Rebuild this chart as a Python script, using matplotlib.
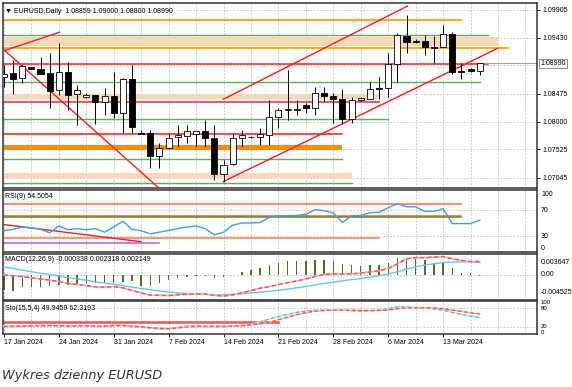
import matplotlib
matplotlib.use("Agg")
import matplotlib.pyplot as plt

plt.rcParams["font.family"] = ["Liberation Sans", "DejaVu Sans"]

W, H = 572, 387

# --- candles (one per trading day, Sunday bars included) ---
opens = [1.08765, 1.08822, 1.08736, 1.08924, 1.08901, 1.08822, 1.08538, 1.08850, 1.08464, 1.08413,
         1.08453, 1.08339, 1.08436, 1.08141, 1.08725, 1.07811, 1.07811, 1.07420, 1.07545, 1.07732,
         1.07755, 1.07783, 1.07845, 1.07715, 1.07102, 1.07272, 1.07715, 1.07743, 1.07743, 1.07772,
         1.08084, 1.08197, 1.08197, 1.08282, 1.08226, 1.08492, 1.08436, 1.08379, 1.08044, 1.08368,
         1.08390, 1.08566, 1.08566, 1.08975, 1.09457, 1.09372, 1.09372, 1.09270, 1.09264, 1.09486,
         1.08861, 1.08895, 1.08859]
highs = [1.08963, 1.09049, 1.08963, 1.08935, 1.09094, 1.09162, 1.09332, 1.09020, 1.08623, 1.08481,
         1.08453, 1.08566, 1.08850, 1.08736, 1.08963, 1.07857, 1.07857, 1.07630, 1.07811, 1.07942,
         1.07942, 1.07845, 1.08027, 1.07942, 1.07346, 1.07800, 1.07857, 1.07755, 1.07885, 1.08368,
         1.08226, 1.08878, 1.08368, 1.08311, 1.08595, 1.08583, 1.08481, 1.08549, 1.08424, 1.08424,
         1.08680, 1.08765, 1.09162, 1.09503, 1.09815, 1.09400, 1.09474, 1.09457, 1.09644, 1.09531,
         1.08992, 1.08907, 1.09000]
lows = [1.08583, 1.08464, 1.08651, 1.08895, 1.08810, 1.08226, 1.08453, 1.08197, 1.07942, 1.08396,
        1.07959, 1.08112, 1.08055, 1.07800, 1.07800, 1.07789, 1.07204, 1.07204, 1.07545, 1.07573,
        1.07630, 1.07573, 1.07573, 1.07006, 1.06977, 1.07261, 1.07573, 1.07726, 1.07601, 1.07601,
        1.07885, 1.08027, 1.08112, 1.08141, 1.08112, 1.08339, 1.07970, 1.07959, 1.07982, 1.08356,
        1.08379, 1.08379, 1.08424, 1.08680, 1.09162, 1.09332, 1.09134, 1.09003, 1.09264, 1.08810,
        1.08719, 1.08850, 1.08800]
closes = [1.08810, 1.08725, 1.08952, 1.08901, 1.08810, 1.08526, 1.08850, 1.08453, 1.08538, 1.08453,
          1.08339, 1.08436, 1.08141, 1.08725, 1.07914, 1.07789, 1.07420, 1.07545, 1.07715, 1.07772,
          1.07845, 1.07845, 1.07715, 1.07102, 1.07261, 1.07726, 1.07772, 1.07732, 1.07783, 1.08084,
          1.08197, 1.08214, 1.08214, 1.08226, 1.08492, 1.08441, 1.08379, 1.08044, 1.08368, 1.08396,
          1.08549, 1.08549, 1.08975, 1.09474, 1.09361, 1.09361, 1.09264, 1.09259, 1.09486, 1.08850,
          1.08850, 1.08861, 1.08990]

date_pos = [0, 6, 12, 18, 24, 30, 36, 42, 48]
date_labels = ["17 Jan 2024", "24 Jan 2024", "31 Jan 2024", "7 Feb 2024", "14 Feb 2024",
               "21 Feb 2024", "28 Feb 2024", "6 Mar 2024", "13 Mar 2024"]

price_ticks = [1.09905, 1.09430, 1.08475, 1.08000, 1.07525, 1.07045]
price_grid = [1.09905, 1.09430, 1.08955, 1.08475, 1.08000, 1.07525, 1.07045]
last_price = 1.08990

# horizontal levels drawn on the price chart: (price, last bar reached)
orange_levels = [(1.09730, 50.0), (1.09247, 55.1)]
green_levels = [(1.09474, 52.9), (1.08680, 52.0), (1.08044, 42.0), (1.07357, 37.0), (1.06949, 38.0)]
red_levels = [(1.08980, 52.9), (1.07783, 37.0)]
pink_levels = [(1.08339, 41.0)]
peach_zones = [(1.09287, 1.09434, 54.0), (1.08379, 1.08470, 41.0), (1.07034, 1.07130, 38.0)]
orange_zones = [(1.07516, 1.07601, 36.9)]
trend_lines = [((0.03, 1.09207), (6.05, 1.09520)),
               ((0.03, 1.09219), (16.97, 1.06864)),
               ((23.97, 1.08379), (44.12, 1.09968)),
               ((23.97, 1.06977), (53.96, 1.09247))]

# --- RSI(9) ---
rsi = [38.6, 40.2, 43.8, 42.8, 40.2, 35.0, 45.4, 39.7, 41.3, 39.7,
       41.3, 35.9, 43.8, 52.8, 40.2, 38.1, 33.4, 35.9, 38.6, 41.3,
       43.8, 45.4, 41.3, 31.8, 35.9, 46.5, 50.1, 50.1, 50.7, 58.6,
       61.1, 61.1, 61.7, 63.3, 70.6, 69.0, 65.4, 50.7, 61.1, 61.7,
       65.8, 66.4, 73.7, 79.5, 75.0, 75.0, 68.0, 68.0, 72.1, 49.1,
       49.1, 49.1, 54.5]
rsi_levels = [(79.1, 50.0, "#ff6a3d"), (60.2, 50.0, "#ff5a2a"), (58.6, 50.0, "#5e8f1f"),
              (26.5, 41.0, "#ff7a45"), (18.6, 17.0, "#b45fd6")]
rsi_trend = ((0.03, 47.6), (14.97, 21.3))

# --- MACD(12,26,9) ---
macd_hist = [-0.00270, -0.00298, -0.00214, -0.00214, -0.00225, -0.00203, -0.00191, -0.00186, -0.00174, -0.00158,
             -0.00158, -0.00158, -0.00146, -0.00129, -0.00113, -0.00203, -0.00203, -0.00146, -0.00101, -0.00056,
             -0.00045, -0.00023, -0.00020, -0.00070, -0.00040, -0.00010, 0.00040, 0.00080, 0.00110, 0.00170,
             0.00210, 0.00240, 0.00240, 0.00240, 0.00250, 0.00250, 0.00240, 0.00180, 0.00170, 0.00150,
             0.00170, 0.00170, 0.00200, 0.00285, 0.00300, 0.00280, 0.00250, 0.00210, 0.00210, 0.00110,
             0.00030, 0.00020, -0.000338]
macd_red = [-0.00006, -0.00023, -0.00034, -0.00056, -0.00079, -0.00101, -0.00124, -0.00158, -0.00180, -0.00197,
            -0.00219, -0.00225, -0.00214, -0.00236, -0.00281, -0.00326, -0.00366, -0.00371, -0.00371, -0.00360,
            -0.00349, -0.00343, -0.00349, -0.00371, -0.00383, -0.00360, -0.00326, -0.00287, -0.00242, -0.00214,
            -0.00180, -0.00146, -0.00113, -0.00079, -0.00034, 0.00000, 0.00011, 0.00011, 0.00011, 0.00028,
            0.00045, 0.00068, 0.00107, 0.00190, 0.00280, 0.00300, 0.00300, 0.00310, 0.00320, 0.00280,
            0.00250, 0.00230, 0.002318]
macd_blue = [0.00135, 0.00107, 0.00079, 0.00051, 0.00023, 0.00000, -0.00028, -0.00056, -0.00079, -0.00101,
             -0.00129, -0.00152, -0.00174, -0.00197, -0.00225, -0.00248, -0.00270, -0.00293, -0.00309, -0.00326,
             -0.00338, -0.00343, -0.00349, -0.00360, -0.00360, -0.00354, -0.00343, -0.00326, -0.00315, -0.00298,
             -0.00281, -0.00259, -0.00236, -0.00214, -0.00186, -0.00158, -0.00135, -0.00113, -0.00090, -0.00073,
             -0.00045, -0.00023, 0.00011, 0.00045, 0.00096, 0.00135, 0.00169, 0.00191, 0.00214, 0.00219,
             0.00225, 0.00225, 0.002149]

# --- Stochastic(15,5,4) ---
sto_main = [24, 22, 25, 24, 27, 25, 24, 23, 26, 25,
            22, 24, 27, 25, 22, 20, 18, 14, 16, 20,
            24, 25, 23, 22, 22, 23, 26, 30, 38, 46,
            54, 61, 67, 71, 74, 74, 74, 74, 72, 71,
            72, 74, 79, 84, 84, 82, 81, 78, 74, 67,
            61, 56, 49.9]
sto_signal = [22, 24, 23, 25, 24, 26, 25, 24, 24, 25,
              24, 23, 25, 26, 24, 22, 19, 17, 16, 18,
              21, 23, 23, 23, 23, 24, 25, 28, 31, 36,
              44, 52, 60, 66, 71, 73, 74, 74, 74, 73,
              73, 73, 75, 79, 81, 82, 82, 81, 79, 74,
              70, 66, 62.3]
sto_level = (36.0, 30.0)

GRID = "#b8c0c8"
X_MIN = -0.1
X_MAX = X_MIN + 534 / 9.15


def add_panel(fig, top, bottom):
    ax = fig.add_axes([3 / W, 1 - bottom / H, 534 / W, (bottom - top) / H])
    ax.set_xlim(X_MIN, X_MAX)
    for spine in ax.spines.values():
        spine.set_color("#333333")
        spine.set_linewidth(1.1)
    ax.tick_params(left=False, labelleft=False, bottom=False, labelbottom=False)
    for i in range(0, 60, 3):
        ax.axvline(i, color=GRID, lw=0.6, ls=(0, (2, 2)), zorder=0)
    return ax


def ftext(fig, x, y, s, **kw):
    kw.setdefault("fontsize", 5)
    kw.setdefault("va", "center")
    fig.text(x / W, 1 - y / H, s, **kw)


fig = plt.figure(figsize=(W / 100, H / 100), dpi=100)
fig.patch.set_facecolor("white")

# ---------------- price panel ----------------
ax = add_panel(fig, 3, 188)
ax.set_ylim(1.06869, 1.10019)
for p in price_grid:
    ax.axhline(p, color=GRID, lw=0.6, ls=(0, (2, 2)), zorder=0)

for lo, hi, end in peach_zones:
    ax.fill_between([X_MIN, end], lo, hi, color="#fdd8b8", lw=0, zorder=1)
for lo, hi, end in orange_zones:
    ax.fill_between([X_MIN, end], lo, hi, color="#ff8c00", lw=0, zorder=1)
for p, end in orange_levels:
    ax.plot([X_MIN, end], [p, p], color="#ffa500", lw=1.3, zorder=2)
for p, end in green_levels:
    ax.plot([X_MIN, end], [p, p], color="#5cae5c", lw=1.0, zorder=2)
for p, end in red_levels:
    ax.plot([X_MIN, end], [p, p], color="#ff1a1a", lw=1.1, zorder=2)
for p, end in pink_levels:
    ax.plot([X_MIN, end], [p, p], color="#f05a64", lw=1.5, zorder=2)
for (x0, p0), (x1, p1) in trend_lines:
    ax.plot([x0, x1], [p0, p1], color="#ff1a1a", lw=1.0, zorder=3)
ax.plot([len(closes) - 1, X_MAX], [last_price, last_price], color="#a0a0a0", lw=0.8, zorder=2)

for i, (o, h, l, c) in enumerate(zip(opens, highs, lows, closes)):
    ax.vlines(i, l, h, color="black", lw=0.7, zorder=4)
    bull = c >= o
    ax.bar(i, max(abs(c - o), 0.00002), bottom=min(o, c), width=0.66,
           facecolor="white" if bull else "black", edgecolor="black", lw=0.6, zorder=5)

ax.yaxis.tick_right()
ax.set_yticks(price_ticks)
ax.set_yticklabels([f"{p:.5f}" for p in price_ticks])
ax.tick_params(axis="y", right=True, labelright=True, length=2, width=0.6, labelsize=5, pad=2)
ax.text(1.006, (last_price - 1.06869) / (1.10019 - 1.06869), f"{last_price:.5f}",
        transform=ax.transAxes, fontsize=5, va="center", ha="left",
        bbox=dict(boxstyle="square,pad=0.2", fc="white", ec="#808080", lw=0.6))
ftext(fig, 5, 11.5, "\u25bc EURUSD,Daily  1.08859 1.09000 1.08800 1.08990")

# ---------------- RSI panel ----------------
ax_rsi = add_panel(fig, 190, 252)
ax_rsi.set_ylim(5.4, 100.8)
for lvl in (70, 30):
    ax_rsi.axhline(lvl, color=GRID, lw=0.6, ls=(0, (2, 2)), zorder=0)
for val, end, col in rsi_levels:
    ax_rsi.plot([X_MIN, end], [val, val], color=col, lw=1.1, zorder=2)
(rx0, rv0), (rx1, rv1) = rsi_trend
ax_rsi.plot([rx0, rx1], [rv0, rv1], color="#ff1a1a", lw=1.0, zorder=3)
ax_rsi.plot(range(len(rsi)), rsi, color="#3d9df5", lw=1.0, zorder=4)
ftext(fig, 5, 196.5, "RSI(9) 54.5054")
for y, s in [(195, "100"), (210, "70"), (236, "30"), (249, "0")]:
    ftext(fig, 541, y, s)

# ---------------- MACD panel ----------------
ax_macd = add_panel(fig, 254, 300)
ax_macd.set_ylim(-0.004525, 0.003647)
ax_macd.axhline(0, color=GRID, lw=0.6, ls=(0, (2, 2)), zorder=0)
ax_macd.bar(range(len(macd_hist)), macd_hist, width=0.15, color="#556b2f", zorder=2)
ax_macd.plot(range(len(macd_blue)), macd_blue, color="#62c8f2", lw=1.0, zorder=3)
ax_macd.plot(range(len(macd_red)), macd_red, color="#ffb3b3", lw=1.2, zorder=3)
ax_macd.plot(range(len(macd_red)), macd_red, color="#ff4d4d", lw=1.0, ls=(0, (3, 2)), zorder=4)
ftext(fig, 5, 259.5, "MACD(12,26,9) -0.000338 0.002318 0.002149")
for y, s in [(263, "0.003647"), (274, "0.00"), (293, "-0.004525")]:
    ftext(fig, 541, y, s)

# ---------------- Stochastic panel ----------------
ax_sto = add_panel(fig, 301, 334)
ax_sto.set_ylim(-1, 103)
for lvl in (80, 20):
    ax_sto.axhline(lvl, color=GRID, lw=0.6, ls=(0, (2, 2)), zorder=0)
ax_sto.plot([X_MIN, sto_level[1]], [sto_level[0], sto_level[0]], color="#ff5050", lw=1.8, zorder=2)
ax_sto.plot(range(len(sto_main)), sto_main, color="#b8ece2", lw=1.1, zorder=3)
ax_sto.plot(range(len(sto_main)), sto_main, color="#55c4b0", lw=0.9, ls=(0, (3, 2)), zorder=3)
ax_sto.plot(range(len(sto_signal)), sto_signal, color="#ffb8b8", lw=1.1, zorder=4)
ax_sto.plot(range(len(sto_signal)), sto_signal, color="#ff4d4d", lw=0.9, ls=(0, (3, 2)), zorder=4)
ftext(fig, 5, 308.5, "Sto(15,5,4) 49.9459 62.3193")
for y, s in [(302.5, "100"), (309, "80"), (326, "20"), (332, "0")]:
    ftext(fig, 541, y, s, fontsize=4.3)

ax_sto.set_xticks(date_pos)
ax_sto.set_xticklabels(date_labels, ha="left")
ax_sto.tick_params(axis="x", bottom=True, labelbottom=True, length=2, width=0.6, labelsize=5, pad=1.5)

fig.text(2 / W, 1 - 375 / H, "Wykres dzienny EURUSD", fontsize=9.3, style="italic",
         color="#333333", va="center", family=["DejaVu Sans"])

fig.savefig("out.png", dpi=100)
